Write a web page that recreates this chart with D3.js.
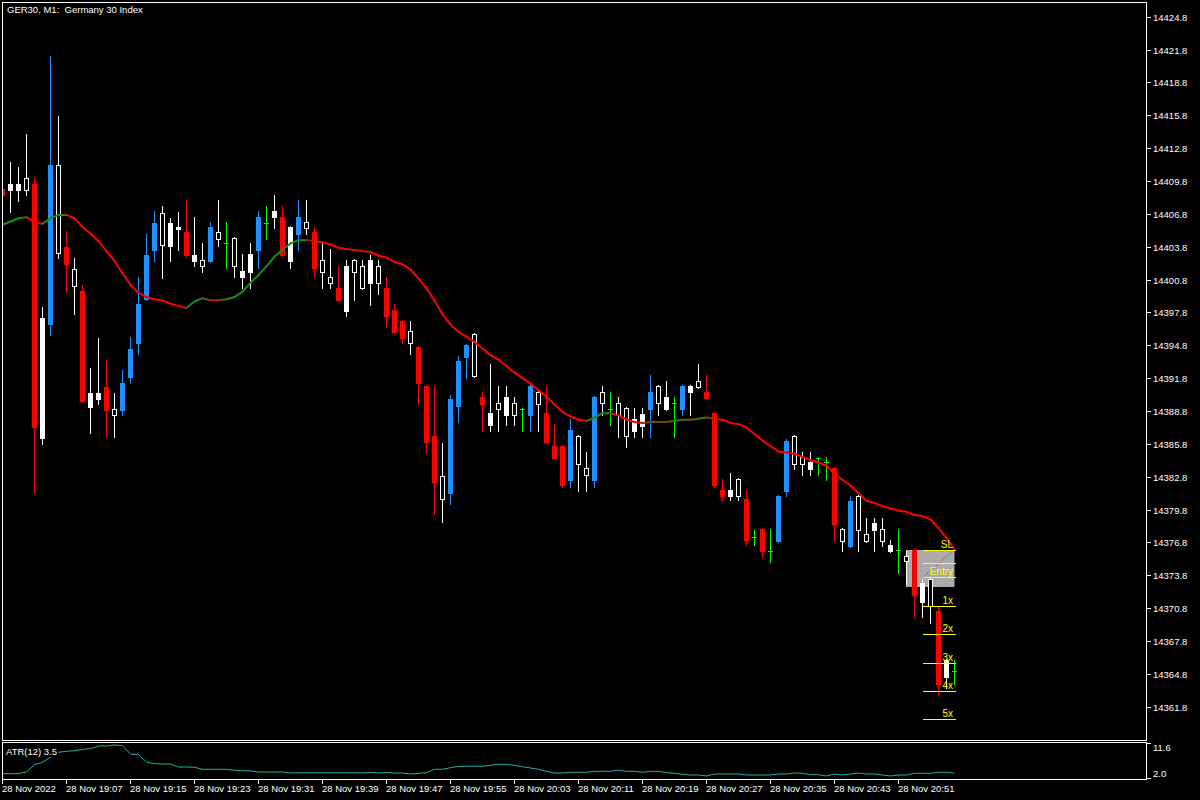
<!DOCTYPE html>
<html>
<head>
<meta charset="utf-8">
<script src="https://cdn.jsdelivr.net/npm/d3@7"></script>
<style>
body { margin: 0; background: #000; }
svg { display: block; }
text { font-family: 'Liberation Sans', Arial, sans-serif; font-size: 9.5px; fill: #fff; }
</style>
</head>
<body>
<svg id="chart"></svg>
<script>
// GER30 M1, 120 bars from 28 Nov 2022 18:59
var open = [
14409.1, 14409.0, 14409.0, 14410.1, 14409.5, 14386.3, 14396.7, 14411.3, 14403.8, 14401.8,
14399.8, 14389.2, 14389.9, 14391.0, 14389.0, 14388.9, 14391.9, 14395.0, 14399.0, 14403.5,
14406.9, 14403.9, 14405.4, 14405.1, 14402.5, 14402.6, 14402.5, 14405.1, 14404.1, 14404.6,
14401.0, 14401.5, 14403.5, 14406.0, 14406.5, 14406.5, 14402.5, 14405.0, 14406.1, 14405.1,
14402.6, 14401.0, 14400.0, 14397.9, 14402.6, 14402.0, 14400.5, 14402.0, 14400.0, 14398.0,
14397.0, 14396.1, 14394.6, 14391.1, 14386.5, 14382.9, 14381.3, 14389.3, 14393.7, 14395.8,
14390.1, 14387.5, 14389.5, 14388.4, 14389.5, 14389.0, 14388.4, 14390.5, 14388.6, 14385.6,
14385.6, 14382.5, 14386.5, 14383.6, 14382.5, 14390.5, 14389.0, 14389.5, 14389.1, 14387.0,
14387.4, 14389.0, 14391.1, 14389.0, 14389.5, 14389.0, 14390.5, 14391.5, 14390.5, 14388.6,
14381.6, 14381.0, 14382.6, 14380.8, 14377.3, 14378.0, 14376.0, 14376.9, 14381.5, 14386.5,
14384.6, 14383.5, 14384.5, 14384.1, 14383.6, 14378.0, 14376.5, 14381.0, 14377.6, 14377.9,
14378.0, 14376.0, 14376.1, 14375.6, 14376.1, 14371.4, 14373.5, 14370.5, 14364.5, 14365.1
];
var high = [
14409.4, 14411.5, 14411.1, 14414.1, 14410.1, 14398.3, 14421.2, 14415.7, 14405.2, 14402.8,
14400.3, 14392.7, 14395.5, 14393.5, 14390.4, 14392.5, 14395.6, 14401.0, 14405.0, 14407.1,
14407.5, 14406.4, 14407.0, 14408.1, 14406.5, 14404.1, 14406.1, 14408.1, 14406.1, 14404.7,
14403.1, 14404.1, 14407.1, 14407.5, 14408.5, 14407.5, 14405.7, 14408.1, 14408.1, 14405.6,
14404.1, 14403.6, 14402.0, 14402.6, 14402.7, 14402.6, 14403.0, 14402.6, 14401.0, 14398.6,
14397.1, 14397.0, 14394.7, 14391.2, 14391.1, 14385.9, 14390.3, 14393.8, 14394.9, 14395.9,
14390.5, 14393.1, 14391.1, 14391.1, 14390.1, 14389.1, 14391.2, 14390.6, 14391.1, 14387.6,
14385.7, 14388.1, 14386.6, 14385.1, 14390.2, 14391.1, 14390.5, 14390.1, 14389.2, 14389.1,
14389.1, 14392.1, 14391.2, 14391.5, 14390.1, 14391.2, 14391.2, 14393.1, 14392.1, 14388.7,
14382.6, 14383.1, 14382.7, 14381.6, 14377.9, 14378.1, 14378.0, 14381.1, 14386.2, 14386.6,
14385.1, 14385.1, 14384.6, 14384.6, 14383.7, 14378.1, 14381.0, 14381.1, 14379.0, 14379.0,
14379.0, 14377.0, 14378.0, 14376.0, 14376.2, 14373.5, 14373.6, 14371.0, 14366.2, 14366.1
];
var low = [
14408.2, 14407.0, 14408.0, 14408.5, 14381.3, 14385.8, 14395.7, 14402.8, 14399.7, 14397.7,
14389.6, 14386.8, 14389.4, 14386.4, 14386.4, 14388.4, 14391.4, 14394.0, 14398.9, 14402.5,
14400.9, 14402.5, 14403.5, 14402.9, 14402.0, 14401.5, 14402.4, 14403.9, 14401.9, 14401.0,
14400.0, 14400.0, 14401.9, 14404.5, 14405.5, 14402.9, 14401.9, 14403.5, 14405.0, 14401.0,
14400.0, 14400.0, 14398.8, 14397.5, 14398.9, 14399.9, 14398.5, 14399.5, 14396.5, 14395.9,
14395.0, 14394.0, 14389.4, 14385.0, 14379.4, 14378.7, 14380.3, 14387.8, 14391.8, 14391.9,
14387.0, 14387.0, 14387.0, 14387.5, 14387.5, 14387.0, 14387.0, 14387.0, 14385.9, 14384.4,
14381.9, 14381.9, 14381.5, 14381.5, 14381.9, 14388.4, 14387.5, 14386.4, 14385.5, 14386.4,
14386.4, 14386.4, 14388.4, 14388.9, 14386.4, 14388.4, 14388.4, 14390.9, 14389.9, 14381.9,
14380.7, 14380.7, 14380.7, 14376.6, 14376.6, 14375.5, 14375.0, 14376.8, 14381.0, 14383.5,
14383.0, 14383.0, 14383.0, 14382.5, 14376.9, 14376.0, 14376.4, 14376.0, 14376.8, 14376.0,
14376.5, 14375.9, 14374.0, 14373.0, 14370.0, 14370.0, 14369.4, 14362.9, 14363.5, 14363.9
];
var close = [
14408.5, 14409.5, 14409.5, 14409.0, 14387.3, 14397.3, 14411.3, 14403.2, 14402.2, 14400.2,
14389.7, 14390.4, 14390.4, 14388.9, 14388.4, 14391.4, 14394.5, 14398.6, 14403.0, 14406.0,
14404.0, 14406.0, 14405.6, 14403.0, 14403.0, 14402.0, 14405.6, 14404.5, 14404.1, 14402.0,
14401.6, 14403.1, 14406.5, 14406.0, 14407.1, 14403.0, 14405.6, 14406.5, 14405.5, 14401.9,
14401.5, 14400.5, 14398.9, 14402.0, 14401.5, 14400.0, 14402.6, 14400.5, 14397.5, 14396.0,
14395.5, 14395.0, 14391.4, 14386.0, 14382.3, 14380.8, 14389.9, 14393.4, 14394.8, 14392.0,
14389.4, 14388.6, 14389.0, 14390.1, 14388.4, 14389.0, 14391.1, 14389.4, 14386.0, 14384.5,
14382.0, 14387.1, 14384.0, 14383.0, 14390.1, 14389.5, 14389.0, 14388.4, 14386.5, 14388.1,
14388.5, 14390.5, 14389.5, 14390.1, 14389.5, 14391.1, 14391.1, 14391.0, 14390.0, 14382.0,
14381.0, 14381.6, 14381.0, 14377.0, 14377.3, 14376.0, 14376.0, 14381.0, 14386.1, 14384.0,
14384.0, 14384.1, 14384.5, 14384.1, 14378.5, 14376.9, 14380.6, 14377.9, 14376.9, 14378.6,
14376.9, 14376.6, 14376.1, 14375.1, 14372.0, 14373.1, 14371.0, 14363.9, 14366.1, 14365.1
];
// bars flagged by the candle-colouring indicator (red when down, blue when up)
var strongBars = [0, 4, 6, 8, 10, 13, 15, 16, 17, 18, 19, 23, 26, 32, 35, 37, 39, 42, 48, 49,
  50, 52, 53, 54, 56, 57, 58, 60, 66, 68, 69, 70, 71, 74, 81, 85, 88, 89, 90, 93,
  95, 97, 98, 104, 106, 114, 117];

var ma = [
14405.8, 14406.1, 14406.4, 14406.5, 14406.0, 14405.9, 14406.4, 14406.7, 14406.7, 14406.4,
14405.6, 14405.0, 14404.3, 14403.4, 14402.5, 14401.4, 14400.3, 14399.6, 14399.2, 14399.0,
14398.9, 14398.6, 14398.4, 14398.2, 14398.8, 14399.1, 14398.9, 14398.9, 14399.0, 14399.2,
14399.7, 14400.5, 14401.2, 14402.0, 14402.9, 14403.5, 14404.1, 14404.4, 14404.4, 14404.3,
14404.2, 14404.0, 14403.7, 14403.6, 14403.5, 14403.4, 14403.3, 14403.0, 14402.8, 14402.4,
14402.2, 14401.7, 14400.9, 14400.0, 14398.9, 14397.6, 14396.7, 14396.0, 14395.6, 14395.1,
14394.5, 14393.9, 14393.5, 14392.9, 14392.3, 14391.8, 14391.3, 14390.7, 14390.1, 14389.4,
14388.7, 14388.3, 14388.0, 14387.9, 14388.2, 14388.6, 14388.6, 14388.4, 14388.0, 14387.8,
14387.7, 14387.8, 14387.8, 14387.8, 14387.9, 14388.0, 14388.0, 14388.1, 14388.2, 14388.1,
14388.0, 14387.7, 14387.6, 14387.3, 14386.7, 14386.1, 14385.6, 14385.1, 14385.0, 14384.9,
14384.6, 14384.3, 14384.1, 14383.8, 14383.1, 14382.5, 14382.0, 14381.3, 14380.6, 14380.4,
14380.1, 14379.9, 14379.7, 14379.6, 14379.3, 14379.2, 14378.9, 14378.1, 14377.2, 14376.2
];

var atr = [
3.34, 3.34, 3.34, 3.81, 5.84, 6.51, 7.90, 9.29, 9.57, 9.74,
10.13, 10.29, 11.05, 11.05, 11.32, 11.13, 8.82, 8.62, 6.59, 6.12,
6.04, 6.04, 5.20, 5.20, 5.12, 4.56, 4.56, 4.56, 4.56, 4.28,
4.17, 4.09, 3.81, 3.81, 3.81, 3.81, 3.53, 3.61, 3.61, 3.61,
3.61, 3.61, 3.61, 3.61, 3.61, 3.53, 3.73, 3.53, 3.73, 3.53,
3.53, 3.25, 3.45, 3.61, 4.56, 4.56, 5.01, 5.40, 5.40, 5.40,
5.40, 5.67, 5.95, 5.95, 5.67, 5.28, 4.92, 4.56, 4.00, 3.53,
3.53, 3.73, 3.73, 3.73, 4.00, 4.00, 4.00, 4.28, 4.00, 4.00,
3.73, 4.00, 4.00, 3.61, 3.45, 3.17, 2.97, 2.97, 2.70, 3.25,
3.25, 3.25, 3.25, 2.97, 2.97, 2.97, 2.97, 3.25, 3.25, 3.53,
3.45, 3.06, 3.06, 2.70, 3.25, 2.97, 3.25, 3.53, 3.25, 3.25,
2.97, 2.70, 2.97, 2.97, 3.45, 3.45, 3.45, 3.73, 3.73, 3.50
];

var priceTicks = [14424.8, 14421.8, 14418.8, 14415.8, 14412.8, 14409.8, 14406.8, 14403.8,
  14400.8, 14397.8, 14394.8, 14391.8, 14388.8, 14385.8, 14382.8, 14379.8, 14376.8,
  14373.8, 14370.8, 14367.8, 14364.8, 14361.8];
var timeTickBars = [0, 8, 16, 24, 32, 40, 48, 56, 64, 72, 80, 88, 96, 104, 112];
var timeTickLabels = ['28 Nov 2022', '28 Nov 19:07', '28 Nov 19:15', '28 Nov 19:23', '28 Nov 19:31',
  '28 Nov 19:39', '28 Nov 19:47', '28 Nov 19:55', '28 Nov 20:03', '28 Nov 20:11',
  '28 Nov 20:19', '28 Nov 20:27', '28 Nov 20:35', '28 Nov 20:43', '28 Nov 20:51'];
var atrTicks = [11.6, 2.0];

// trade box / risk levels
var levelNames = ['SL', '', 'Entry', '1x', '2x', '3x', '4x', '5x'];
var levelPrices = [14376.15, 14374.9, 14373.6, 14371.0, 14368.4, 14365.75, 14363.2, 14360.65];
var boxBars = [113, 119];
var boxPrices = [14376.15, 14372.75];
var tradeLine = [[115, 14373.55], [119, 14376.15]];

var width = 1200, height = 800;
var panelLeft = 2.5, panelTop = 2.5, panelRight = 1146.5, mainBottom = 740.5;
var atrTop = 742.5, atrBottom = 779.5;

var red = '#ff0000', blue = '#1e90ff', white = '#ffffff', green = '#00ff00', yellow = '#ffff00';

var svg = d3.select('#chart')
	.attr('width', width)
	.attr('height', height);

svg.append('rect').attr('width', width).attr('height', height).attr('fill', '#000');

var defs = svg.append('defs');
defs.append('clipPath').attr('id', 'clipMain')
	.append('rect').attr('x', 3).attr('y', 3).attr('width', panelRight - 3.5).attr('height', mainBottom - 3.5);
defs.append('clipPath').attr('id', 'clipAtr')
	.append('rect').attr('x', 3).attr('y', atrTop + 0.5).attr('width', panelRight - 3.5).attr('height', atrBottom - atrTop - 1);

var x = d3.scaleLinear().domain([0, 119]).range([2.5, 954.5]);
var y = d3.scaleLinear().domain([14361.8, 14424.8]).range([706.7, 16.7]);
var yAtr = d3.scaleLinear().domain([2.0, 11.6]).range([778.5, 744]);

var bars = open.map((o, i) => ({
	i: i, o: o, h: high[i], l: low[i], c: close[i], strong: strongBars.indexOf(i) >= 0
}));

var candleColor = function(d) {
	if (d.o === d.c) return green;
	if (d.strong) return d.c > d.o ? blue : red;
	return white;
};

var main = svg.append('g').attr('clip-path', 'url(#clipMain)');

// grey trade box (behind candles)
main.append('rect')
	.attr('x', x(boxBars[0]) - 0.5)
	.attr('y', Math.round(y(boxPrices[0])))
	.attr('width', x(boxBars[1]) - x(boxBars[0]) + 0.5)
	.attr('height', Math.round(y(boxPrices[1])) - Math.round(y(boxPrices[0])))
	.attr('fill', '#aaaaaa');

// candles
var candles = main.append('g').attr('shape-rendering', 'crispEdges');

candles.selectAll('.wick')
	.data(bars)
	.enter()
	.append('line')
		.classed('wick', true)
		.attr('x1', d => x(d.i))
		.attr('x2', d => x(d.i))
		.attr('y1', d => Math.round(y(d.h)))
		.attr('y2', d => Math.round(y(d.l)) + 1)
		.attr('stroke', candleColor);

candles.selectAll('.body')
	.data(bars.filter(d => d.o !== d.c && (d.strong || d.c > d.o)))
	.enter()
	.append('rect')
		.classed('body', true)
		.attr('x', d => x(d.i) - 2.5)
		.attr('width', 5)
		.attr('y', d => Math.round(y(Math.max(d.o, d.c))))
		.attr('height', d => Math.max(1, Math.round(y(Math.min(d.o, d.c))) - Math.round(y(Math.max(d.o, d.c))) + 1))
		.attr('fill', candleColor);

candles.selectAll('.hollow')
	.data(bars.filter(d => d.o > d.c && !d.strong))
	.enter()
	.append('rect')
		.classed('hollow', true)
		.attr('x', d => x(d.i) - 2)
		.attr('width', 4)
		.attr('y', d => Math.round(y(d.o)) + 0.5)
		.attr('height', d => Math.max(1, Math.round(y(d.c)) - Math.round(y(d.o))))
		.attr('fill', '#000')
		.attr('stroke', white);

candles.selectAll('.doji')
	.data(bars.filter(d => d.o === d.c))
	.enter()
	.append('line')
		.classed('doji', true)
		.attr('x1', d => x(d.i) - 2.5)
		.attr('x2', d => x(d.i) + 2.5)
		.attr('y1', d => Math.round(y(d.o)) + 0.5)
		.attr('y2', d => Math.round(y(d.o)) + 0.5)
		.attr('stroke', green);

// moving average, coloured by its slope
var slopeColor = d3.scaleLinear()
	.domain([-0.15, -0.03, 0.03, 0.15])
	.range(['#ff0000', '#8b3000', '#6a5200', '#1a8a1a'])
	.clamp(true);

var maSegments = d3.range(1, ma.length).map(i => ({
	i: i, slope: (ma[i] - ma[Math.max(0, i - 2)]) / 2
}));

main.append('g').selectAll('line')
	.data(maSegments)
	.enter()
	.append('line')
		.attr('x1', d => x(d.i - 1))
		.attr('y1', d => y(ma[d.i - 1]))
		.attr('x2', d => x(d.i))
		.attr('y2', d => y(ma[d.i]))
		.attr('stroke', d => slopeColor(d.slope))
		.attr('stroke-width', 2)
		.attr('stroke-linecap', 'round');

// dotted trade line
main.append('line')
	.attr('x1', x(tradeLine[0][0])).attr('y1', y(tradeLine[0][1]))
	.attr('x2', x(tradeLine[1][0])).attr('y2', y(tradeLine[1][1]))
	.attr('stroke', red)
	.attr('stroke-dasharray', '1,2');

// risk levels
var levels = levelNames.map((n, i) => ({ name: n, price: levelPrices[i] }));

main.append('g').attr('shape-rendering', 'crispEdges')
	.selectAll('line')
	.data(levels)
	.enter()
	.append('line')
		.attr('x1', x(115))
		.attr('x2', x(119) + 1)
		.attr('y1', d => Math.round(y(d.price)) + 0.5)
		.attr('y2', d => Math.round(y(d.price)) + 0.5)
		.attr('stroke', yellow);

main.append('g').selectAll('text')
	.data(levels.filter(d => d.name))
	.enter()
	.append('text')
		.attr('x', 953)
		.attr('y', d => Math.round(y(d.price)) - 2)
		.attr('text-anchor', 'end')
		.style('fill', yellow)
		.style('font-size', '10px')
		.text(d => d.name);

// title
svg.append('text')
	.attr('x', 7)
	.attr('y', 13)
	.style('white-space', 'pre')
	.text('GER30, M1:  Germany 30 Index');

// ATR sub window
var atrLine = d3.line()
	.x((d, i) => x(i))
	.y(d => yAtr(d));

svg.append('path')
	.datum(atr)
	.attr('clip-path', 'url(#clipAtr)')
	.attr('d', atrLine)
	.attr('fill', 'none')
	.attr('stroke', '#20b2aa')
	.attr('stroke-width', 1);

svg.append('rect')
	.attr('x', 4).attr('y', 745).attr('width', 54).attr('height', 12)
	.attr('fill', '#000');
svg.append('text')
	.attr('x', 6)
	.attr('y', 755)
	.text('ATR(12) ' + d3.format('.1f')(atr[atr.length - 1]));

// frames
var frames = svg.append('g')
	.attr('fill', 'none')
	.attr('stroke', '#fff')
	.attr('shape-rendering', 'crispEdges');
frames.append('rect')
	.attr('x', panelLeft).attr('y', panelTop)
	.attr('width', panelRight - panelLeft).attr('height', mainBottom - panelTop);
frames.append('rect')
	.attr('x', panelLeft).attr('y', atrTop)
	.attr('width', panelRight - panelLeft).attr('height', atrBottom - atrTop);

// price axis
var pAxis = svg.append('g');
pAxis.selectAll('line')
	.data(priceTicks)
	.enter()
	.append('line')
		.attr('x1', panelRight).attr('x2', panelRight + 4)
		.attr('y1', d => Math.round(y(d)) + 0.5)
		.attr('y2', d => Math.round(y(d)) + 0.5)
		.attr('stroke', '#fff')
		.attr('shape-rendering', 'crispEdges');
pAxis.selectAll('text')
	.data(priceTicks)
	.enter()
	.append('text')
		.attr('x', panelRight + 6.5)
		.attr('y', d => Math.round(y(d)) + 4)
		.text(d => d3.format('.1f')(d));

// ATR axis
var aAxis = svg.append('g');
aAxis.selectAll('line')
	.data(atrTicks)
	.enter()
	.append('line')
		.attr('x1', panelRight).attr('x2', panelRight + 4)
		.attr('y1', (d, i) => i === 0 ? atrTop + 1 : atrBottom - 1)
		.attr('y2', (d, i) => i === 0 ? atrTop + 1 : atrBottom - 1)
		.attr('stroke', '#fff')
		.attr('shape-rendering', 'crispEdges');
aAxis.selectAll('text')
	.data(atrTicks)
	.enter()
	.append('text')
		.attr('x', panelRight + 6.5)
		.attr('y', (d, i) => i === 0 ? atrTop + 8.5 : atrBottom - 3)
		.text(d => d3.format('.1f')(d));

// time axis
var tAxis = svg.append('g');
tAxis.selectAll('line')
	.data(timeTickBars)
	.enter()
	.append('line')
		.attr('x1', d => x(d)).attr('x2', d => x(d))
		.attr('y1', atrBottom).attr('y2', atrBottom + 4)
		.attr('stroke', '#fff')
		.attr('shape-rendering', 'crispEdges');
tAxis.selectAll('text')
	.data(timeTickBars)
	.enter()
	.append('text')
		.attr('x', d => x(d) - 0.5)
		.attr('y', 792)
		.text((d, i) => timeTickLabels[i]);
</script>
</body>
</html>
